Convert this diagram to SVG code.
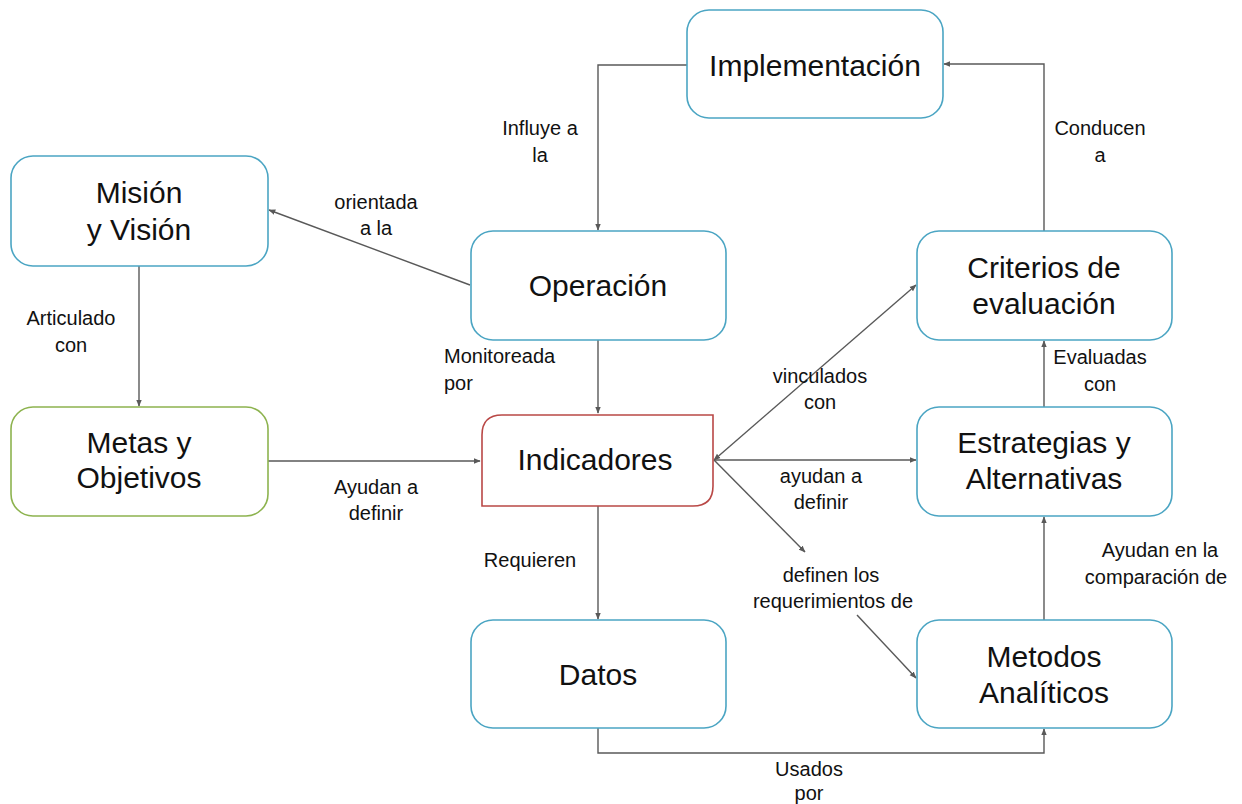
<svg xmlns="http://www.w3.org/2000/svg" width="1242" height="804" viewBox="0 0 1242 804">
<style>
.node{fill:#fff;stroke:#4ba5c3;stroke-width:1.6}
.green{stroke:#8db34f}
.red{stroke:#b94846}
.nt{font-family:"Liberation Sans",Arial,sans-serif;font-size:30px;fill:#111;text-anchor:middle}
.lb{font-family:"Liberation Sans",Arial,sans-serif;font-size:20px;fill:#111;text-anchor:middle}
.c{fill:none;stroke:#595959;stroke-width:1.4}
</style>
<defs>
<marker id="ah" viewBox="0 0 10 10" refX="9" refY="5" markerWidth="7" markerHeight="7" markerUnits="userSpaceOnUse" orient="auto-start-reverse">
<path d="M0,1 L10,5 L0,9 Z" fill="#595959"/>
</marker>
</defs>
<rect width="1242" height="804" fill="#fff"/>
<g id="connectors">
<path class="c" d="M687,65 H598 V230" marker-end="url(#ah)"/>
<path class="c" d="M1044,231 V64 H944" marker-end="url(#ah)"/>
<path class="c" d="M470,285 L269,210" marker-end="url(#ah)"/>
<path class="c" d="M139,266 V406" marker-end="url(#ah)"/>
<path class="c" d="M268,461 H480" marker-end="url(#ah)"/>
<path class="c" d="M598,340 V413" marker-end="url(#ah)"/>
<path class="c" d="M598,506 V619" marker-end="url(#ah)"/>
<path class="c" d="M714,460 H916" marker-end="url(#ah)"/>
<path class="c" d="M714,460 L916,285" marker-start="url(#ah)" marker-end="url(#ah)"/>
<path class="c" d="M714,460 L805,552" marker-end="url(#ah)"/>
<path class="c" d="M857,615 L916,678" marker-end="url(#ah)"/>
<path class="c" d="M598,728 V753 H1044 V729" marker-end="url(#ah)"/>
<path class="c" d="M1044,620 V517" marker-end="url(#ah)"/>
<path class="c" d="M1044,407 V341" marker-end="url(#ah)"/>
<g id="labels">
<text class="lb" x="540" y="135">Influye a</text>
<text class="lb" x="540" y="162">la</text>
<text class="lb" x="376" y="209">orientada</text>
<text class="lb" x="376" y="235">a la</text>
<text class="lb" x="1100" y="135">Conducen</text>
<text class="lb" x="1100" y="162">a</text>
<text class="lb" x="71" y="325">Articulado</text>
<text class="lb" x="71" y="352">con</text>
<text class="lb" x="444" y="363" text-anchor="start" style="text-anchor:start">Monitoreada</text>
<text class="lb" x="444" y="390" style="text-anchor:start">por</text>
<text class="lb" x="820" y="383">vinculados</text>
<text class="lb" x="820" y="409">con</text>
<text class="lb" x="1100" y="364">Evaluadas</text>
<text class="lb" x="1100" y="391">con</text>
<text class="lb" x="376" y="494">Ayudan a</text>
<text class="lb" x="376" y="520">definir</text>
<text class="lb" x="821" y="483">ayudan a</text>
<text class="lb" x="821" y="509">definir</text>
<text class="lb" x="530" y="567">Requieren</text>
<text class="lb" x="831" y="582">definen los</text>
<text class="lb" x="833" y="608">requerimientos de</text>
<text class="lb" x="1160" y="557">Ayudan en la</text>
<text class="lb" x="1156" y="584">comparación de</text>
<text class="lb" x="809" y="776">Usados</text>
<text class="lb" x="809" y="800">por</text>
</g>
</g>
<g id="implementacion">
<rect class="node" x="687" y="10" width="256" height="108" rx="22"/>
<text class="nt" x="815" y="76">Implementación</text>
</g>
<g id="mision">
<rect class="node" x="11" y="156" width="257" height="110" rx="22"/>
<text class="nt" x="139" y="203">Misión</text>
<text class="nt" x="139" y="240">y Visión</text>
</g>
<g id="operacion">
<rect class="node" x="471" y="231" width="255" height="109" rx="22"/>
<text class="nt" x="598" y="296">Operación</text>
</g>
<g id="criterios">
<rect class="node" x="917" y="231" width="255" height="109" rx="22"/>
<text class="nt" x="1044" y="278">Criterios de</text>
<text class="nt" x="1044" y="314">evaluación</text>
</g>
<g id="metas">
<rect class="node green" x="11" y="407" width="257" height="109" rx="22"/>
<text class="nt" x="139" y="453">Metas y</text>
<text class="nt" x="139" y="488">Objetivos</text>
</g>
<g id="indicadores">
<path class="node red" d="M482,435 Q482,415 502,415 H713 V486 Q713,506 693,506 H482 Z"/>
<text class="nt" x="595" y="470">Indicadores</text>
</g>
<g id="estrategias">
<rect class="node" x="917" y="407" width="255" height="109" rx="22"/>
<text class="nt" x="1044" y="453">Estrategias y</text>
<text class="nt" x="1044" y="489">Alternativas</text>
</g>
<g id="datos">
<rect class="node" x="471" y="620" width="255" height="108" rx="22"/>
<text class="nt" x="598" y="685">Datos</text>
</g>
<g id="metodos">
<rect class="node" x="917" y="620" width="255" height="108" rx="22"/>
<text class="nt" x="1044" y="667">Metodos</text>
<text class="nt" x="1044" y="703">Analíticos</text>
</g>
</svg>
